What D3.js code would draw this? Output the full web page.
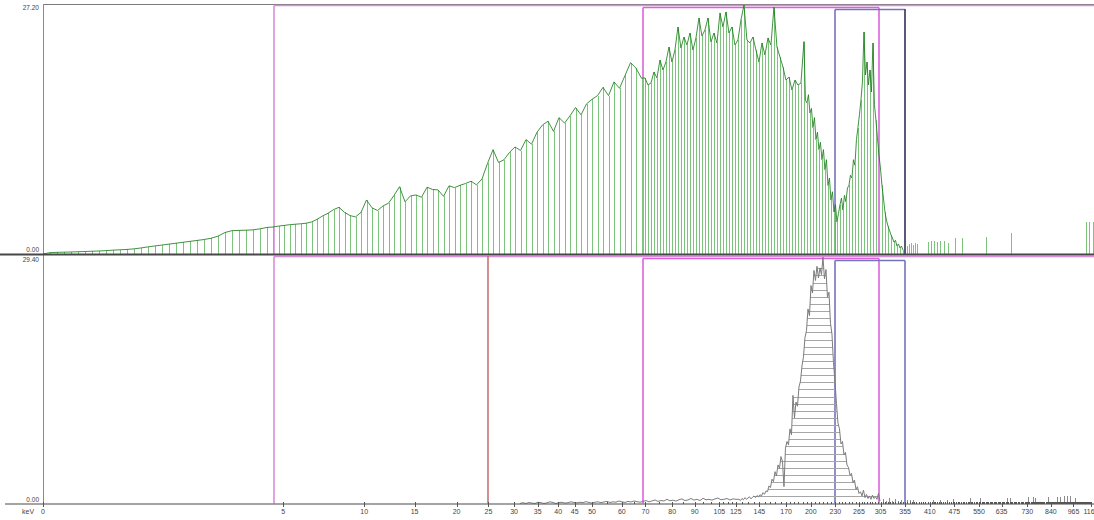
<!DOCTYPE html>
<html>
<head>
<meta charset="utf-8">
<script src="https://cdn.jsdelivr.net/npm/d3@7"></script>
<style>
  html, body { margin: 0; padding: 0; background: #fff; }
  svg { display: block; font-family: "Liberation Sans", Arial, sans-serif; }
</style>
</head>
<body>
<svg id="chart" width="1094" height="520"></svg>
<script>
// ---- Energy calibration: labelled energies (keV) and their display channel (0..1024 across the plot)
const tickKeV     = [0, 5, 10, 15, 20, 25, 30, 35, 40, 45, 50, 60, 70, 80, 90, 105, 125, 145, 170, 200, 230, 265, 305, 355, 410, 475, 550, 635, 730, 840, 965, 1162];
const tickChannel = [0, 234, 313, 362, 403, 434, 459, 482, 502, 518, 535, 564, 587, 613, 635, 659, 675, 698, 724, 748, 772, 795, 816, 840, 864, 888, 912, 934, 959, 982, 1004, 1021];

// ---- Upper spectrum (counts per bin), sampled on regular channel grids per range
const upperLowStart = 6.82,  upperLowStep = 6.82;
const upperLow = [0.15, 0.18, 0.2, 0.22, 0.25, 0.27, 0.3, 0.33, 0.37, 0.42, 0.46, 0.5, 0.56, 0.66, 0.78, 0.88,
  0.98, 1.08, 1.18, 1.28, 1.38, 1.48, 1.58, 1.72, 1.95, 2.35, 2.55, 2.58, 2.6, 2.64, 2.75, 2.9];

const upperMidStart = 224.1, upperMidStep = 5.359;
const upperMid = [2.95, 3.05, 3.12, 3.2, 3.25, 3.3, 3.36, 3.5, 3.78, 4.15, 4.45, 4.85, 5.1, 4.55, 4.2, 4.05,
  4.55, 5.9, 5.05, 4.75, 5.25, 5.55, 6.4, 7.35, 5.7, 6.35, 6.45, 6.2, 7.3, 7.05, 7.0, 6.3,
  7.45, 7.25, 7.5, 7.7, 7.95, 7.55, 8.2, 9.9, 11.4, 10.0, 10.3, 11.1, 11.7, 11.3, 12.5, 12.0,
  13.3, 14.1, 14.5, 13.4, 14.9, 14.3, 15.1, 16.0, 15.2, 16.4, 16.9, 17.3, 18.2, 17.3, 18.8, 18.1,
  19.5, 20.9, 20.3, 19.2];

const upperHighStart = 586.5, upperHighStep = 2.923;
const upperHigh = [19.23, 18.46, 18.68, 19.88, 19.23, 21.19, 20.1, 20.97, 22.61, 20.97, 22.28, 24.8, 22.5, 23.7,
  22.83, 24.14, 22.28, 23.6, 25.78, 23.81, 24.47, 25.78, 23.16, 24.14, 23.05, 26.33, 24.8, 26.44,
  24.14, 24.8, 22.83, 23.38, 25.56, 27.2, 23.38, 23.05, 23.7, 22.28, 20.97, 23.05, 21.74, 23.6,
  22.83, 26.98, 22.61, 21.52, 20.43, 19.0, 19.34, 17.92, 19.0, 18.46, 18.68];

const upperPeakStart = 741.4, upperPeakStep = 1.4615;
const upperPeak = [23.2, 16.8, 16.5, 17.4, 15.4, 15.9, 13.8, 14.9, 12.5, 13.3, 11.4, 12.2, 10.3, 11.4, 9.2, 10.3,
  7.5, 8.3, 5.9, 6.8, 4.6, 5.4, 3.5, 4.4, 5.35, 6.1, 4.8, 6.4, 5.7, 7.2, 7.5, 8.6,
  8.3, 10.3, 9.7, 12.5, 13.8, 15.2, 16.8, 18.8, 24.25, 19.55, 20.97, 18.46, 20.1, 17.7, 23.05, 16.3,
  14.6, 12.7, 10.8, 9.4, 7.5, 6.1, 4.6, 3.7, 3.06, 2.6, 2.1, 1.75, 1.3, 1.5, 0.87, 1.1,
  0.66, 0.87, 0.44];

// isolated counts above the main spectrum
const upperTailChannel = [841.8, 843.8, 845.7, 847.7, 849.6, 851.5, 862.3, 865.2, 868.1, 871.0, 874.0, 877.9, 881.8, 888.6, 895.4, 918.8, 943.1, 1016.2, 1019.1, 1023.0];
const upperTailCounts  = [0.87, 1.09, 1.2, 0.98, 1.2, 1.09, 1.31, 1.42, 1.42, 1.31, 1.42, 1.42, 1.2, 1.75, 1.75, 1.86, 2.29, 3.5, 3.5, 3.5];

// ---- Lower spectrum
const lowerNoiseStart = 464.7, lowerNoiseStep = 2.923;
const lowerNoise = [0, 0.1, 0, 0.12, 0.05, 0, 0.15, 0.1, 0, 0.08, 0.2, 0.12, 0, 0.1, 0.15, 0.05, 0.1, 0.2, 0.12, 0.08,
  0.15, 0.1, 0.22, 0.12, 0.05, 0.15, 0.2, 0.1, 0.18, 0.25, 0.12, 0.2, 0.15, 0.3, 0.2, 0.12, 0.25, 0.18, 0.3, 0.22, 0.15,
  0.25, 0.35, 0.2, 0.3, 0.42, 0.25, 0.35, 0.3, 0.5, 0.32, 0.4, 0.28, 0.45, 0.55, 0.35, 0.42, 0.6, 0.4, 0.5, 0.35,
  0.62, 0.45, 0.5, 0.4, 0.55, 0.65, 0.45, 0.5, 0.6, 0.42, 0.55, 0.5];

const lowerPeakStart = 678.1, lowerPeakStep = 1.4615;
const lowerPeak = [0.5, 0.35, 0.6, 0.45, 0.7, 0.5, 0.65, 0.8, 0.55, 0.75, 0.9, 0.7, 0.95, 0.8, 1.05, 0.9,
  1.3, 1.1, 1.5, 1.4, 2.1, 1.9, 2.9, 2.6, 3.8, 3.3, 4.6, 4.2, 5.6, 5.0, 2.0, 6.6,
  7.4, 7.0, 8.9, 8.2, 12.9, 10.2, 12.1, 11.6, 13.9, 14.6, 16.4, 17.5, 19.8, 20.6, 23.2, 22.4,
  26.0, 25.1, 27.8, 26.6, 28.3, 26.9, 28.1, 27.3, 29.4, 26.8, 27.9, 24.6, 25.2, 21.5, 20.2, 16.8,
  14.6, 11.9, 9.6, 8.9, 7.1, 7.4, 5.8, 6.1, 4.6, 4.3, 3.4, 3.6, 2.5, 2.8, 1.7, 2.0,
  1.2, 1.4, 0.9, 1.6, 0.7, 1.1, 0.6, 0.9, 0.5, 1.0, 0.6, 0.8, 0.5, 1.2, 0.3];

const lowerTailChannel = [818.4, 821.3, 824.3, 827.2, 830.1, 833.0, 836.0, 841.8, 844.7, 847.7, 867.1, 874.0, 880.8, 886.6,
  903.2, 912.9, 939.2, 942.2, 959.7, 964.6, 966.5, 979.2, 988.0, 990.9, 994.8, 997.7, 1000.6, 1005.5];
const lowerTailCounts = [0.5, 0.3, 0.6, 0.35, 0.5, 0.25, 0.4, 0.36, 0.36, 0.36, 0.36, 0.36, 0.36, 0.48,
  0.6, 0.6, 0.6, 0.6, 0.72, 0.72, 0.6, 0.72, 0.72, 0.72, 0.84, 0.84, 0.84, 0.6];

// ---- Regions of interest (keV) and single-energy markers
const roiStartKeV = [4.8, 68.9, 230];
const roiEndKeV   = [1250, 302, 355];
const upperMarkerKeV = [355];
const lowerMarkerKeV = [25];

// ---------------------------------------------------------------------------
const roiColors = ["#d98ed9", "#dc62dc", "#7474bc"];
const svg = d3.select("#chart");

const xCh = d3.scaleLinear().domain([0, 1024]).range([43, 1094]);
const keVtoCh = d3.scaleLinear().domain(tickKeV).range(tickChannel);
const xKeV = e => xCh(keVtoCh(e));

const grid = (start, step, values) => values.map((v, i) => ({ ch: start + step * i, v, i }));

const upperLowPts  = grid(upperLowStart, upperLowStep, upperLow);
const upperMidPts  = grid(upperMidStart, upperMidStep, upperMid);
const upperHighPts = grid(upperHighStart, upperHighStep, upperHigh);
const upperPeakPts = grid(upperPeakStart, upperPeakStep, upperPeak);
const upperTrace = [{ ch: 0, v: 0 }].concat(upperLowPts, upperMidPts, upperHighPts, upperPeakPts);
const upperTail = upperTailChannel.map((c, i) => ({ ch: c, v: upperTailCounts[i] }));

const lowerNoisePts = grid(lowerNoiseStart, lowerNoiseStep, lowerNoise);
const lowerPeakPts  = grid(lowerPeakStart, lowerPeakStep, lowerPeak);
const lowerTrace = lowerNoisePts.concat(lowerPeakPts);
const lowerTail = lowerTailChannel.map((c, i) => ({ ch: c, v: lowerTailCounts[i] }));

const upperMax = d3.max(upperTrace.concat(upperTail), d => d.v);
const lowerMax = d3.max(lowerTrace.concat(lowerTail), d => d.v);

const yUp  = d3.scaleLinear().domain([0, upperMax]).range([254, 5]);
const yLow = d3.scaleLinear().domain([0, lowerMax]).range([503.5, 257]);

const px = v => Math.round(v) + 0.5;

// ---- frame
const frame = svg.append("g").attr("stroke-width", 1).attr("shape-rendering", "crispEdges");
frame.append("line").attr("x1", 43).attr("x2", 1094).attr("y1", 4.5).attr("y2", 4.5).attr("stroke", "#7a7a7a");
frame.append("line").attr("x1", 43.5).attr("x2", 43.5).attr("y1", 4).attr("y2", 505).attr("stroke", "#8a8a8a");

// ---- regions of interest in both panels, drawn as open boxes
const roiLayer = svg.append("g").attr("fill", "none");
const box = (x0, x1, top, bottom, color) => {
  const g = roiLayer.append("g").attr("stroke", color).attr("stroke-width", 1.6);
  g.append("line").attr("x1", x0).attr("x2", x1).attr("y1", top).attr("y2", top);
  g.append("line").attr("x1", x0).attr("x2", x0).attr("y1", top).attr("y2", bottom);
  g.append("line").attr("x1", x1).attr("x2", x1).attr("y1", top).attr("y2", bottom);
};
roiStartKeV.forEach((s, i) => {
  const x0 = Math.round(xKeV(s)), x1 = Math.round(xKeV(roiEndKeV[i]));
  box(x0, x1, 5.5 + 2 * i, yUp(0), roiColors[i]);
  box(x0, x1, 256.5 + 2 * i, yLow(0), roiColors[i]);
});
upperMarkerKeV.forEach(e => {
  roiLayer.append("line").attr("x1", Math.round(xKeV(e))).attr("x2", Math.round(xKeV(e)))
    .attr("y1", 9).attr("y2", yUp(0)).attr("stroke", "#55536e").attr("stroke-width", 1.8);
});
lowerMarkerKeV.forEach(e => {
  roiLayer.append("line").attr("x1", Math.round(xKeV(e))).attr("x2", Math.round(xKeV(e)))
    .attr("y1", 256).attr("y2", yLow(0)).attr("stroke", "#c06060").attr("stroke-width", 1.4);
});

// ---- upper spectrum: stems + trace
const upper = svg.append("g");
const upperStems = upperLowPts.concat(upperMidPts, upperHighPts, upperPeakPts.filter(d => d.i % 2 === 0), upperTail);
upper.append("g").attr("shape-rendering", "crispEdges")
  .selectAll("line").data(upperStems).join("line")
  .attr("x1", d => px(xCh(d.ch))).attr("x2", d => px(xCh(d.ch)))
  .attr("y1", yUp(0)).attr("y2", d => yUp(d.v))
  .attr("stroke", "#7cc47c").attr("stroke-width", 1);
upper.append("path").datum(upperTrace)
  .attr("fill", "none").attr("stroke", "#1f7f1f").attr("stroke-width", 1).attr("stroke-opacity", 0.85)
  .attr("d", d3.line().x(d => xCh(d.ch)).y(d => yUp(d.v)));

// ---- lower spectrum: level bars across the peak, trace, isolated counts
const lower = svg.append("g");
const lowerLevels = d3.range(0.85, lowerMax, 0.85);
const crossX = (pts, level) => {
  const a = pts.findIndex(d => d.v >= level);
  const b = pts.length - 1 - [...pts].reverse().findIndex(d => d.v >= level);
  if (a < 0) return null;
  const lerp = (p, q) => xCh(p.ch + (q.ch - p.ch) * (level - p.v) / (q.v - p.v));
  const left = a > 0 ? lerp(pts[a - 1], pts[a]) : xCh(pts[a].ch);
  const right = b < pts.length - 1 ? lerp(pts[b + 1], pts[b]) : xCh(pts[b].ch);
  return [left, right];
};
lower.append("g").attr("shape-rendering", "crispEdges")
  .selectAll("line").data(lowerLevels.map(l => ({ l, x: crossX(lowerPeakPts, l) })).filter(d => d.x))
  .join("line")
  .attr("x1", d => d.x[0]).attr("x2", d => d.x[1])
  .attr("y1", d => px(yLow(d.l))).attr("y2", d => px(yLow(d.l)))
  .attr("stroke", "#a6a6a6").attr("stroke-width", 1);
lower.append("path").datum(lowerTrace)
  .attr("fill", "none").attr("stroke", "#7c7c7c").attr("stroke-width", 1)
  .attr("d", d3.line().x(d => xCh(d.ch)).y(d => yLow(d.v)));
lower.append("g").attr("shape-rendering", "crispEdges")
  .selectAll("line").data(lowerTail).join("line")
  .attr("x1", d => px(xCh(d.ch))).attr("x2", d => px(xCh(d.ch)))
  .attr("y1", yLow(0)).attr("y2", d => yLow(d.v))
  .attr("stroke", "#8a8a8a").attr("stroke-width", 1);

// ---- panel separator and energy axis
svg.append("line").attr("x1", 0).attr("x2", 1094).attr("y1", 254.5).attr("y2", 254.5)
  .attr("stroke", "#474747").attr("stroke-width", 2);
svg.append("line").attr("x1", 5).attr("x2", 1094).attr("y1", 504).attr("y2", 504)
  .attr("stroke", "#4a4a4a").attr("stroke-width", 1.2);

const axis = svg.append("g").attr("shape-rendering", "crispEdges");
axis.selectAll("line.minor").data(d3.range(0, 1165, 5)).join("line").attr("class", "minor")
  .attr("x1", d => px(xKeV(d))).attr("x2", d => px(xKeV(d)))
  .attr("y1", 501.5).attr("y2", 504).attr("stroke", "#555");
axis.selectAll("line.major").data(tickKeV).join("line").attr("class", "major")
  .attr("x1", d => px(xKeV(d))).attr("x2", d => px(xKeV(d)))
  .attr("y1", 504).attr("y2", 507).attr("stroke", "#555");
axis.selectAll("text").data(tickKeV).join("text")
  .attr("x", d => xKeV(d)).attr("y", 514)
  .attr("text-anchor", "middle").attr("font-size", 7).attr("fill", "#444")
  .text(d => d);
svg.append("text").attr("x", 22).attr("y", 514).attr("font-size", 7).attr("fill", "#444").text("keV");

// ---- count range labels
const rangeLabels = [
  { t: upperMax.toFixed(2), y: 9.5 },
  { t: (0).toFixed(2), y: 252 },
  { t: lowerMax.toFixed(2), y: 261.5 },
  { t: (0).toFixed(2), y: 502 }
];
svg.selectAll("text.range").data(rangeLabels).join("text").attr("class", "range")
  .attr("x", 39).attr("y", d => d.y).attr("text-anchor", "end")
  .attr("font-size", 6.5).attr("fill", "#444").text(d => d.t);
</script>
</body>
</html>
